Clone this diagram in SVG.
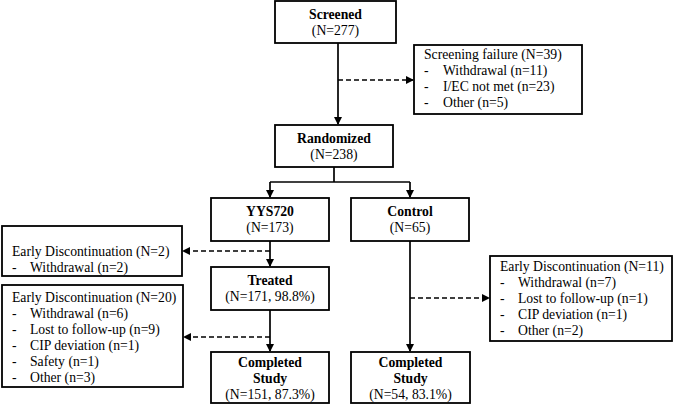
<svg xmlns="http://www.w3.org/2000/svg" width="677" height="406" viewBox="0 0 677 406">
<defs>
<marker id="ah" markerWidth="8" markerHeight="8" refX="7" refY="4" orient="auto" markerUnits="userSpaceOnUse">
<path d="M0,0 L8,4 L0,8 Z" fill="#000"/>
</marker>
<style>
.box{fill:#fff;stroke:#000;stroke-width:1.8}
text{font-family:"Liberation Serif","Times New Roman",serif;font-size:13.7px;fill:#000}
.b{font-weight:bold}
.c{text-anchor:middle}
.ln{fill:none;stroke:#000;stroke-width:1.7}
.ds{fill:none;stroke:#000;stroke-width:1.6;stroke-dasharray:5,3}
</style>
</defs>
<rect width="677" height="406" fill="#fff"/>
<g id="connectors">
<line class="ln" x1="338" y1="43" x2="338" y2="124" marker-end="url(#ah)"/>
<line class="ds" x1="338" y1="80" x2="413" y2="80" marker-end="url(#ah)"/>
<polyline class="ln" points="334,167 334,182"/>
<polyline class="ln" points="270,182 410,182"/>
<line class="ln" x1="270" y1="182" x2="270" y2="197" marker-end="url(#ah)"/>
<line class="ln" x1="410" y1="182" x2="410" y2="197" marker-end="url(#ah)"/>
<line class="ln" x1="270" y1="241" x2="270" y2="266" marker-end="url(#ah)"/>
<line class="ds" x1="270" y1="251" x2="183" y2="251" marker-end="url(#ah)"/>
<line class="ln" x1="270" y1="310" x2="270" y2="351" marker-end="url(#ah)"/>
<line class="ds" x1="270" y1="337" x2="184" y2="337" marker-end="url(#ah)"/>
<line class="ln" x1="410" y1="241" x2="410" y2="351" marker-end="url(#ah)"/>
<line class="ds" x1="410" y1="298" x2="489" y2="298" marker-end="url(#ah)"/>
</g>
<g id="screened">
<rect class="box" x="275" y="1" width="121" height="42"/>
<text class="b c" x="335.5" y="19">Screened</text>
<text class="c" x="335.5" y="35">(N=277)</text>
</g>
<g id="screening-failure">
<rect class="box" x="414" y="45" width="168" height="69"/>
<text x="424" y="59">Screening failure (N=39)</text>
<text x="424" y="75">-</text><text x="443" y="75">Withdrawal (n=11)</text>
<text x="424" y="91">-</text><text x="443" y="91">I/EC not met (n=23)</text>
<text x="424" y="107">-</text><text x="443" y="107">Other (n=5)</text>
</g>
<g id="randomized">
<rect class="box" x="275" y="125" width="118" height="42"/>
<text class="b c" x="334" y="143">Randomized</text>
<text class="c" x="334" y="159">(N=238)</text>
</g>
<g id="yys720">
<rect class="box" x="211" y="198" width="118" height="43"/>
<text class="b c" x="270" y="216">YYS720</text>
<text class="c" x="270" y="232">(N=173)</text>
</g>
<g id="control">
<rect class="box" x="351" y="198" width="118" height="43"/>
<text class="b c" x="410" y="216">Control</text>
<text class="c" x="410" y="232">(N=65)</text>
</g>
<g id="early-disc-2">
<rect class="box" x="2" y="226" width="180" height="50"/>
<text x="12" y="256">Early Discontinuation (N=2)</text>
<text x="12" y="272">-</text><text x="30" y="272">Withdrawal (n=2)</text>
</g>
<g id="treated">
<rect class="box" x="211" y="267" width="118" height="43"/>
<text class="b c" x="270" y="285">Treated</text>
<text class="c" x="270" y="301">(N=171, 98.8%)</text>
</g>
<g id="early-disc-20">
<rect class="box" x="2" y="285" width="181" height="102"/>
<text x="12" y="302">Early Discontinuation (N=20)</text>
<text x="12" y="318">-</text><text x="30" y="318">Withdrawal (n=6)</text>
<text x="12" y="334">-</text><text x="30" y="334">Lost to follow-up (n=9)</text>
<text x="12" y="350">-</text><text x="30" y="350">CIP deviation (n=1)</text>
<text x="12" y="366">-</text><text x="30" y="366">Safety (n=1)</text>
<text x="12" y="382">-</text><text x="30" y="382">Other (n=3)</text>
</g>
<g id="early-disc-11">
<rect class="box" x="490" y="256" width="182" height="85"/>
<text x="500" y="271">Early Discontinuation (N=11)</text>
<text x="500" y="287">-</text><text x="518" y="287">Withdrawal (n=7)</text>
<text x="500" y="303">-</text><text x="518" y="303">Lost to follow-up (n=1)</text>
<text x="500" y="319">-</text><text x="518" y="319">CIP deviation (n=1)</text>
<text x="500" y="335">-</text><text x="518" y="335">Other (n=2)</text>
</g>
<g id="completed-yys">
<rect class="box" x="211" y="352" width="118" height="51"/>
<text class="b c" x="270" y="367">Completed</text>
<text class="b c" x="270" y="383">Study</text>
<text class="c" x="270" y="399">(N=151, 87.3%)</text>
</g>
<g id="completed-control">
<rect class="box" x="351" y="352" width="119" height="51"/>
<text class="b c" x="410.5" y="367">Completed</text>
<text class="b c" x="410.5" y="383">Study</text>
<text class="c" x="410.5" y="399">(N=54, 83.1%)</text>
</g>
</svg>
